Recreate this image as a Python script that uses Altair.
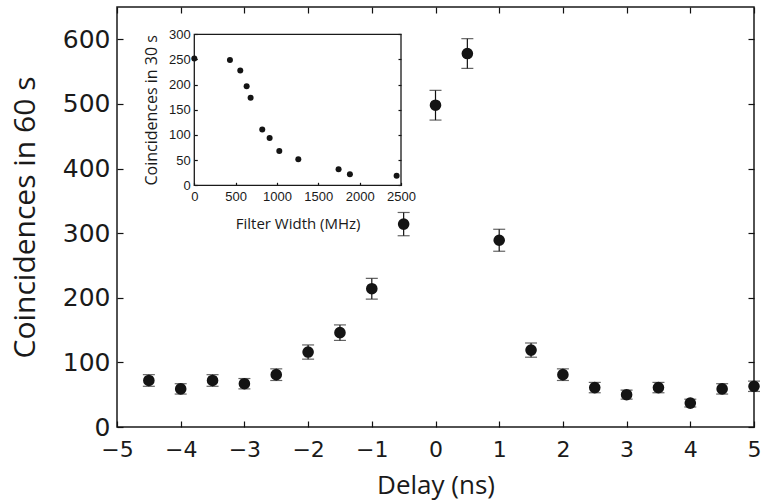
import altair as alt
import pandas as pd

# ---- main data: coincidences vs delay ----
delay = [-4.5, -4.0, -3.5, -3.0, -2.5, -2.0, -1.5, -1.0, -0.5, 0.0,
         0.5, 1.0, 1.5, 2.0, 2.5, 3.0, 3.5, 4.0, 4.5, 5.0]
counts = [72, 59, 72, 67, 81, 116, 146, 214, 314, 498,
          578, 289, 119, 81, 61, 50, 61, 37, 59, 63]
errors = [9, 8, 9, 8, 9, 11, 12, 16, 18, 23,
          23, 17, 11, 9, 8, 7, 8, 6, 8, 8]

# ---- inset data: coincidences vs filter width ----
filter_width = [0, 431, 556, 633, 681, 822, 911, 1028, 1258, 1745, 1882, 2447]
inset_counts = [252, 249, 228, 197, 174, 111, 94, 68, 52, 32, 22, 19]

# ---- tick labels ----
main_x_ticks = [-5, -4, -3, -2, -1, 0, 1, 2, 3, 4, 5]
main_y_ticks = [0, 100, 200, 300, 400, 500, 600]
inset_x_ticks = [0, 500, 1000, 1500, 2000, 2500]
inset_y_ticks = [0, 50, 100, 150, 200, 250, 300]

W, H = 637, 420
IN_X = [77.3, 284]
IN_Y = [178.3, 27.3]
TK = 6
ITK = 3

LABEL_FONT = "DejaVu Sans"
INSET_LABEL_FONT = "Liberation Sans"
TITLE_FONT = "Open Sans"

main = pd.DataFrame({"delay": delay, "counts": counts, "err": errors})
main["lo"] = main["counts"] - main["err"]
main["hi"] = main["counts"] + main["err"]
inset = pd.DataFrame({"width": filter_width, "counts": inset_counts})
frame = pd.DataFrame({"x0": [inset_x_ticks[0]], "x1": [inset_x_ticks[-1]],
                      "y0": [inset_y_ticks[0]], "y1": [inset_y_ticks[-1]]})

xs = alt.Scale(domain=[-5, 5], nice=False, zero=False)
ys = alt.Scale(domain=[0, 650], nice=False)
ixs = alt.Scale(domain=[0, 2500], range=IN_X, nice=False)
iys = alt.Scale(domain=[0, 300], range=IN_Y, nice=False)

common_axis = dict(grid=False, domain=False, tickColor="#111111", tickWidth=1.2,
                   labelColor="#1a1a1a", titleColor="#1a1a1a",
                   titleFontWeight="normal", labelOverlap=False,
                   labelFlush=False)

base = alt.Chart(main)

points = base.mark_point(filled=True, size=135, color="#141414", opacity=1).encode(
    x=alt.X("delay:Q", scale=xs,
            axis=alt.Axis(orient="bottom", values=main_x_ticks, format="d",
                          offset=-TK, tickSize=TK, labelFont=LABEL_FONT,
                          labelFontSize=22, labelPadding=12,
                          title="Delay (ns)", titleFont=TITLE_FONT,
                          titleFontSize=26, titlePadding=12, **common_axis)),
    y=alt.Y("counts:Q", scale=ys,
            axis=alt.Axis(orient="left", values=main_y_ticks, format="d",
                          offset=-TK, tickSize=TK, labelFont=LABEL_FONT,
                          labelFontSize=25, labelPadding=7,
                          title="Coincidences in 60 s", titleFont=TITLE_FONT,
                          titleFontSize=30, titlePadding=22, **common_axis)),
)

bars = base.mark_rule(color="#111111", strokeWidth=1.2).encode(
    x=alt.X("delay:Q", scale=xs, axis=None),
    y=alt.Y("lo:Q", scale=ys, axis=None),
    y2="hi:Q",
)

caps = base.transform_fold(["lo", "hi"], as_=["end", "v"]).mark_tick(
    orient="horizontal", size=12, thickness=1.2, color="#222222"
).encode(
    x=alt.X("delay:Q", scale=xs, axis=None),
    y=alt.Y("v:Q", scale=ys, axis=None),
)

frame_ticks = base.mark_point(opacity=0).encode(
    x=alt.X("delay:Q", scale=xs,
            axis=alt.Axis(orient="top", values=main_x_ticks, offset=-TK,
                          tickSize=TK, labels=False, title=None, **common_axis)),
    y=alt.Y("counts:Q", scale=ys,
            axis=alt.Axis(orient="right", values=main_y_ticks, offset=-TK,
                          tickSize=TK, labels=False, title=None, **common_axis)),
)

inset_frame = alt.Chart(frame).mark_rect(
    filled=False, stroke="#1a1a1a", strokeWidth=1.3
).encode(
    x=alt.X("x0:Q", scale=ixs, axis=None),
    x2="x1:Q",
    y=alt.Y("y0:Q", scale=iys,
            axis=alt.Axis(orient="right", values=inset_y_ticks,
                          offset=(IN_X[1] - ITK) - W, tickSize=ITK,
                          labels=False, title=None, **common_axis)),
    y2="y1:Q",
)

inset_points = alt.Chart(inset).mark_point(
    filled=True, size=36, color="#141414", opacity=1
).encode(
    x=alt.X("width:Q", scale=ixs,
            axis=alt.Axis(orient="bottom", values=inset_x_ticks, format="d",
                          offset=(IN_Y[0] - ITK) - H, tickSize=ITK,
                          labelFont=INSET_LABEL_FONT, labelFontSize=13,
                          labelPadding=5, title="Filter Width (MHz)",
                          titleFont=TITLE_FONT, titleFontSize=15,
                          titlePadding=13, **common_axis)),
    y=alt.Y("counts:Q", scale=iys,
            axis=alt.Axis(orient="left", values=inset_y_ticks, format="d",
                          offset=-(IN_X[0] + ITK), tickSize=ITK,
                          labelFont=INSET_LABEL_FONT, labelFontSize=13,
                          labelPadding=4, title="Coincidences in 30 s",
                          titleFont=TITLE_FONT, titleFontSize=16,
                          titlePadding=9, **common_axis)),
)

chart = alt.layer(
    bars, caps, points, frame_ticks, inset_frame, inset_points
).resolve_scale(
    x="independent", y="independent"
).resolve_axis(
    x="independent", y="independent"
).properties(
    width=W, height=H,
    padding={"left": 117, "top": 7, "right": 13, "bottom": 77},
    autosize=alt.AutoSizeParams(type="none"),
    background="white",
).configure_view(
    stroke="#1a1a1a", strokeWidth=1.5
)

chart.save("out.html", embed_options={"renderer": "svg", "actions": False})
